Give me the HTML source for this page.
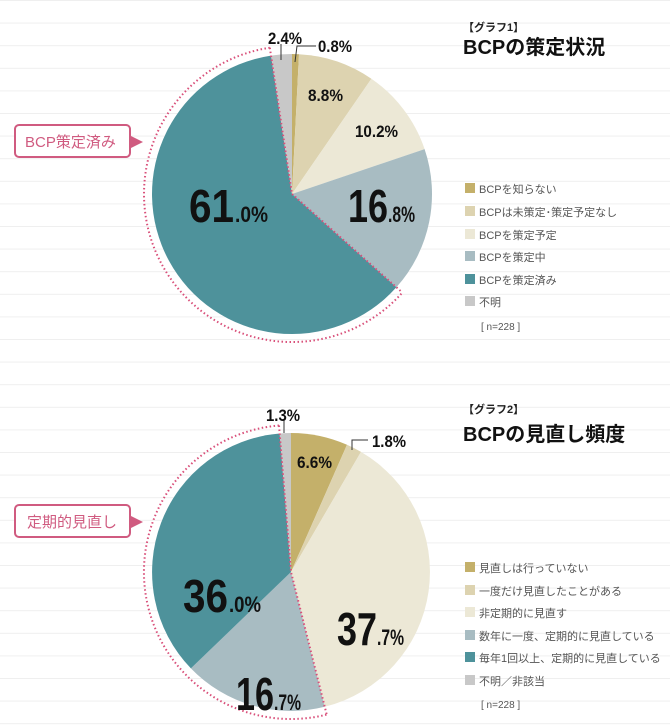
<!DOCTYPE html>
<html><head><meta charset="utf-8"><style>
html,body{margin:0;padding:0;background:#fff;}
svg{display:block;}
text{font-family:"Liberation Sans","Noto Sans CJK JP",sans-serif;}
</style></head><body>
<svg width="670" height="728" viewBox="0 0 670 728" xmlns="http://www.w3.org/2000/svg">
<defs>
<pattern id="g" width="670" height="22.6" patternUnits="userSpaceOnUse">
<line x1="0" y1="0.5" x2="670" y2="0.5" stroke="#efefef" stroke-width="1"/>
</pattern>
</defs>
<rect width="670" height="728" fill="#fff"/>
<rect width="670" height="728" fill="url(#g)"/>

<!-- Pie 1 -->
<g stroke="none">
<path d="M292,194 L292,54 A140,140 0 0 1 299,54.2 Z" fill="#c4b06a"/>
<path d="M292,194 L299,54.2 A140,140 0 0 1 371.4,78.7 Z" fill="#ddd3b0"/>
<path d="M292,194 L371.4,78.7 A140,140 0 0 1 424.6,149.1 Z" fill="#ece8d6"/>
<path d="M292,194 L424.6,149.1 A140,140 0 0 1 396.4,287.3 Z" fill="#a8bcc2"/>
<path d="M292,194 L396.4,287.3 A140,140 0 1 1 271,55.6 Z" fill="#4e929b"/>
<path d="M292,194 L271,55.6 A140,140 0 0 1 292,54 Z" fill="#c8c8c8"/>
</g>
<g fill="none" stroke="#d9507a" stroke-width="2" stroke-dasharray="1.5,2.5">
<path d="M269.8,47.7 A148,148 0 1 0 402.4,292.6"/>
<path d="M269.8,47.7 L292,194 L402.4,292.6"/>
</g>
<polyline points="295,62 297,46 316,46" fill="none" stroke="#333" stroke-width="1"/>
<line x1="281" y1="44" x2="281" y2="60" stroke="#333" stroke-width="1"/>
<text x="268" y="44" font-size="17" font-weight="bold" textLength="34" lengthAdjust="spacingAndGlyphs" fill="#111">2.4%</text>
<text x="318" y="52" font-size="17" font-weight="bold" textLength="34" lengthAdjust="spacingAndGlyphs" fill="#111">0.8%</text>
<text x="308" y="101" font-size="17" font-weight="bold" textLength="35" lengthAdjust="spacingAndGlyphs" fill="#111">8.8%</text>
<text x="355" y="137" font-size="17" font-weight="bold" textLength="43" lengthAdjust="spacingAndGlyphs" fill="#111">10.2%</text>
<text x="189" y="222" font-size="46" font-weight="bold" textLength="45" lengthAdjust="spacingAndGlyphs" fill="#111">61</text><text x="235" y="222" font-size="22" font-weight="bold" textLength="33" lengthAdjust="spacingAndGlyphs" fill="#111">.0%</text>
<text x="348" y="222" font-size="46" font-weight="bold" textLength="40" lengthAdjust="spacingAndGlyphs" fill="#111">16</text><text x="388" y="222" font-size="22" font-weight="bold" textLength="27" lengthAdjust="spacingAndGlyphs" fill="#111">.8%</text>

<rect x="15" y="125" width="115" height="32" rx="4" fill="#fff" stroke="#d05b80" stroke-width="2"/>
<polygon points="131,136 143,142 131,148" fill="#d05b80"/>
<text x="25" y="147" font-size="15" fill="#d05b80">BCP策定済み</text>

<text x="463" y="31" font-size="11" font-weight="bold" fill="#222">【グラフ1】</text>
<text x="463" y="54" font-size="20" font-weight="bold" fill="#111">BCPの策定状況</text>
<g font-size="11" fill="#555">
<rect x="465" y="183" width="10" height="10" fill="#c4b06a"/><text x="479" y="193">BCPを知らない</text>
<rect x="465" y="206" width="10" height="10" fill="#ddd3b0"/><text x="479" y="216">BCPは未策定･策定予定なし</text>
<rect x="465" y="229" width="10" height="10" fill="#ece8d6"/><text x="479" y="239">BCPを策定予定</text>
<rect x="465" y="251" width="10" height="10" fill="#a8bcc2"/><text x="479" y="261">BCPを策定中</text>
<rect x="465" y="274" width="10" height="10" fill="#4e929b"/><text x="479" y="284">BCPを策定済み</text>
<rect x="465" y="296" width="10" height="10" fill="#c8c8c8"/><text x="479" y="306">不明</text>
<text x="481" y="330" font-size="10">[ n=228 ]</text>
</g>

<!-- Pie 2 -->
<g stroke="none">
<path d="M291,572 L291,433 A139,139 0 0 1 347,444.8 Z" fill="#c4b06a"/>
<path d="M291,572 L347,444.8 A139,139 0 0 1 361,451.9 Z" fill="#ddd3b0"/>
<path d="M291,572 L361,451.9 A139,139 0 0 1 324.7,706.8 Z" fill="#ece8d6"/>
<path d="M291,572 L324.7,706.8 A139,139 0 0 1 190.9,668.4 Z" fill="#a8bcc2"/>
<path d="M291,572 L190.9,668.4 A139,139 0 0 1 279.7,433.5 Z" fill="#4e929b"/>
<path d="M291,572 L279.7,433.5 A139,139 0 0 1 291,433 Z" fill="#c8c8c8"/>
</g>
<g fill="none" stroke="#d9507a" stroke-width="2" stroke-dasharray="1.5,2.5">
<path d="M279,425.5 A147,147 0 1 0 326.7,714.6"/>
<path d="M279,425.5 L291,572 L326.7,714.6"/>
</g>
<polyline points="352,450 352,440 368,440" fill="none" stroke="#333" stroke-width="1"/>
<line x1="284" y1="420" x2="284" y2="433" stroke="#333" stroke-width="1"/>
<text x="266" y="421" font-size="17" font-weight="bold" textLength="34" lengthAdjust="spacingAndGlyphs" fill="#111">1.3%</text>
<text x="372" y="447" font-size="17" font-weight="bold" textLength="34" lengthAdjust="spacingAndGlyphs" fill="#111">1.8%</text>
<text x="297" y="468" font-size="17" font-weight="bold" textLength="35" lengthAdjust="spacingAndGlyphs" fill="#111">6.6%</text>
<text x="183" y="612" font-size="46" font-weight="bold" textLength="45" lengthAdjust="spacingAndGlyphs" fill="#111">36</text><text x="229" y="612" font-size="22" font-weight="bold" textLength="32" lengthAdjust="spacingAndGlyphs" fill="#111">.0%</text>
<text x="337" y="645" font-size="46" font-weight="bold" textLength="40" lengthAdjust="spacingAndGlyphs" fill="#111">37</text><text x="377" y="645" font-size="22" font-weight="bold" textLength="27" lengthAdjust="spacingAndGlyphs" fill="#111">.7%</text>
<text x="236" y="710" font-size="46" font-weight="bold" textLength="38" lengthAdjust="spacingAndGlyphs" fill="#111">16</text><text x="274" y="710" font-size="22" font-weight="bold" textLength="27" lengthAdjust="spacingAndGlyphs" fill="#111">.7%</text>

<rect x="15" y="505" width="115" height="32" rx="4" fill="#fff" stroke="#d05b80" stroke-width="2"/>
<polygon points="131,516 143,522 131,528" fill="#d05b80"/>
<text x="27" y="527" font-size="15" fill="#d05b80">定期的見直し</text>

<text x="463" y="413" font-size="11" font-weight="bold" fill="#222">【グラフ2】</text>
<text x="463" y="441" font-size="20" font-weight="bold" fill="#111">BCPの見直し頻度</text>
<g font-size="11" fill="#555">
<rect x="465" y="562" width="10" height="10" fill="#c4b06a"/><text x="479" y="572">見直しは行っていない</text>
<rect x="465" y="585" width="10" height="10" fill="#ddd3b0"/><text x="479" y="595">一度だけ見直したことがある</text>
<rect x="465" y="607" width="10" height="10" fill="#ece8d6"/><text x="479" y="617">非定期的に見直す</text>
<rect x="465" y="630" width="10" height="10" fill="#a8bcc2"/><text x="479" y="640">数年に一度、定期的に見直している</text>
<rect x="465" y="652" width="10" height="10" fill="#4e929b"/><text x="479" y="662">毎年1回以上、定期的に見直している</text>
<rect x="465" y="675" width="10" height="10" fill="#c8c8c8"/><text x="479" y="685">不明／非該当</text>
<text x="481" y="708" font-size="10">[ n=228 ]</text>
</g>
</svg>
</body></html>
